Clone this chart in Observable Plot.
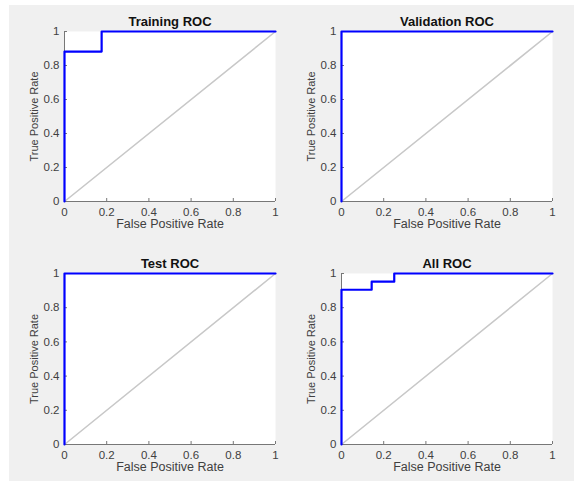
<!DOCTYPE html>
<html>
<head>
<meta charset="utf-8">
<script src="https://cdn.jsdelivr.net/npm/d3@7"></script>
<script src="https://cdn.jsdelivr.net/npm/@observablehq/plot@0.6"></script>
<style>
  html, body { margin: 0; padding: 0; background: white; }
  #wrap { position: relative; width: 574px; height: 481px; background: white; overflow: hidden; }
  #bg { position: absolute; left: 9px; top: 5px; right: 0; bottom: 0; background: #f0f0f0; }
  .pnl { position: absolute; }
</style>
</head>
<body>
<div id="wrap"><div id="bg"></div></div>
<script>
// ---- data ----
const panelTitles = ["Training ROC", "Validation ROC", "Test ROC", "All ROC"];
const trainFPR = [0, 0, 0.176, 0.176, 1];
const trainTPR = [0, 0.882, 0.882, 1, 1];
const valFPR = [0, 0, 1];
const valTPR = [0, 1, 1];
const testFPR = [0, 0, 1];
const testTPR = [0, 1, 1];
const allFPR = [0, 0, 0.143, 0.143, 0.25, 0.25, 1];
const allTPR = [0, 0.905, 0.905, 0.952, 0.952, 1, 1];
const diagFPR = [0, 1];
const diagTPR = [0, 1];
const tickValues = [0, 0.2, 0.4, 0.6, 0.8, 1];
const tickLabels = ["0", "0.2", "0.4", "0.6", "0.8", "1"];
const xLabel = "False Positive Rate";
const yLabel = "True Positive Rate";

const font = "'Liberation Sans', Arial, Helvetica, sans-serif";
const fmt = d => tickLabels[tickValues.indexOf(d)];

function panel(title, fpr, tpr, m) {
  const data = fpr.map((x, i) => ({x, y: tpr[i]}));
  const diag = diagFPR.map((x, i) => ({x, y: diagTPR[i]}));
  return Plot.plot({
    width: 287, height: 240,
    marginLeft: m[0], marginRight: m[1], marginTop: m[2], marginBottom: m[3],
    x: {domain: [0, 1]},
    y: {domain: [0, 1]},
    style: {background: "transparent", fontFamily: font, fontSize: "11.5px", color: "#404040", overflow: "visible"},
    marks: [
      Plot.frame({fill: "white", stroke: null}),
      Plot.line(diag, {x: "x", y: "y", stroke: "#c8c8c8", strokeWidth: 1.6}),
      Plot.axisX({ticks: tickValues, tickFormat: fmt, tickSize: -3, tickPadding: 9, label: null, stroke: "#777", fill: "#404040", fontSize: 11.5}),
      Plot.axisY({ticks: tickValues, tickFormat: fmt, tickSize: -3, tickPadding: 8, label: null, stroke: "#777", fill: "#404040", fontSize: 11.5}),
      Plot.ruleY([0], {stroke: "#777"}),
      Plot.ruleX([0], {stroke: "#777"}),
      Plot.line(data, {x: "x", y: "y", stroke: "#0000ff", strokeWidth: 2.2}),
      Plot.text([title], {text: d => d, frameAnchor: "top", lineAnchor: "middle", dy: -10, fontWeight: "bold", fontSize: 13, fill: "#111"}),
      Plot.text([xLabel], {text: d => d, frameAnchor: "bottom", lineAnchor: "middle", dy: 22.5, fontSize: 12.5, fill: "#404040"}),
      Plot.text([yLabel], {text: d => d, frameAnchor: "left", textAnchor: "middle", lineAnchor: "middle", dx: -30, rotate: -90, fontSize: 11, fill: "#404040"})
    ]
  });
}

const specs = [
  {t: panelTitles[0], f: trainFPR, p: trainTPR, m: [64, 12, 31, 39], left: 0, top: 0},
  {t: panelTitles[1], f: valFPR, p: valTPR, m: [54, 22, 31, 39], left: 287, top: 0},
  {t: panelTitles[2], f: testFPR, p: testTPR, m: [64, 12, 33, 36], left: 0, top: 240},
  {t: panelTitles[3], f: allFPR, p: allTPR, m: [54, 22, 33, 36], left: 287, top: 240}
];
const wrap = document.getElementById("wrap");
for (const s of specs) {
  const div = document.createElement("div");
  div.className = "pnl";
  div.style.left = s.left + "px";
  div.style.top = s.top + "px";
  div.appendChild(panel(s.t, s.f, s.p, s.m));
  wrap.appendChild(div);
}
</script>
</body>
</html>
